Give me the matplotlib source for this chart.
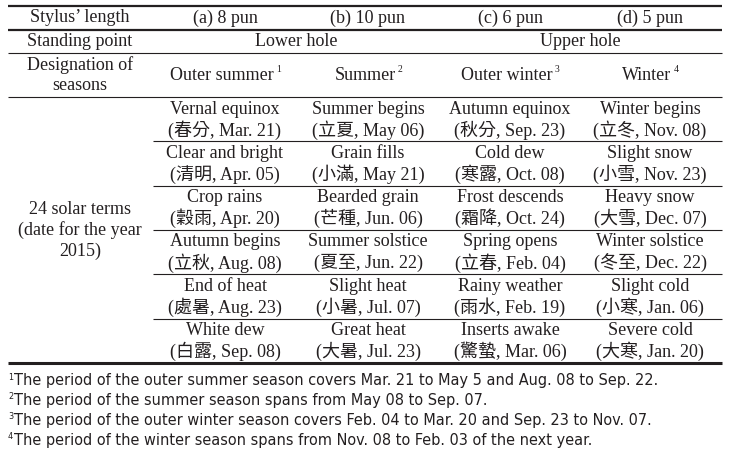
import matplotlib
matplotlib.use("Agg")
from matplotlib import pyplot as plt

# table content
stylus = ["(a) 8 pun", "(b) 10 pun", "(c) 6 pun", "(d) 5 pun"]
standing = ["Lower hole", "Upper hole"]
seasons = ["Outer summer", "Summer", "Outer winter", "Winter"]

terms_en = [
    ["Vernal equinox", "Clear and bright", "Crop rains", "Autumn begins", "End of heat", "White dew"],
    ["Summer begins", "Grain fills", "Bearded grain", "Summer solstice", "Slight heat", "Great heat"],
    ["Autumn equinox", "Cold dew", "Frost descends", "Spring opens", "Rainy weather", "Inserts awake"],
    ["Winter begins", "Slight snow", "Heavy snow", "Winter solstice", "Slight cold", "Severe cold"],
]
terms_zh = [
    ["春分", "清明", "穀雨", "立秋", "處暑", "白露"],
    ["立夏", "小滿", "芒種", "夏至", "小暑", "大暑"],
    ["秋分", "寒露", "霜降", "立春", "雨水", "驚蟄"],
    ["立冬", "小雪", "大雪", "冬至", "小寒", "大寒"],
]
terms_date = [
    ["Mar. 21", "Apr. 05", "Apr. 20", "Aug. 08", "Aug. 23", "Sep. 08"],
    ["May 06", "May 21", "Jun. 06", "Jun. 22", "Jul. 07", "Jul. 23"],
    ["Sep. 23", "Oct. 08", "Oct. 24", "Feb. 04", "Feb. 19", "Mar. 06"],
    ["Nov. 08", "Nov. 23", "Dec. 07", "Dec. 22", "Jan. 06", "Jan. 20"],
]
notes = [
    "The period of the outer summer season covers Mar. 21 to May 5 and Aug. 08 to Sep. 22.",
    "The period of the summer season spans from May 08 to Sep. 07.",
    "The period of the outer winter season covers Feb. 04 to Mar. 20 and Sep. 23 to Nov. 07.",
    "The period of the winter season spans from Nov. 08 to Feb. 03 of the next year.",
]

INK = "#231f20"
SERIF = ["Liberation Serif", "Noto Sans CJK TC"]
SANS = ["DejaVu Sans"]
FS = 13

fig = plt.figure(figsize=(7.30, 4.63), dpi=100)
ax = fig.add_axes([0, 0, 1, 1])
ax.set_xlim(0, 730)
ax.set_ylim(463, 0)
ax.axis("off")

x0, x1 = 8, 722
col_x = [80, 225, 368, 510, 650]
row_x0 = 153

def txt(x, y, s, **kw):
    kw.setdefault("fontsize", FS)
    return ax.text(x, y, s, ha="center", va="center", color=INK, family=SERIF, **kw)

# rules
ax.hlines(6, x0, x1, color=INK, lw=1.6)
ax.hlines(30, x0, x1, color=INK, lw=1.6)
ax.hlines(53, x0, x1, color=INK, lw=0.8)
ax.hlines(97, x0, x1, color=INK, lw=0.8)
ax.hlines(363, x0, x1, color=INK, lw=2.2)

# header
txt(col_x[0], 18, "Stylus\u2019 length")
for i, s in enumerate(stylus):
    txt(col_x[i + 1], 18, s)
txt(col_x[0], 42, "Standing point")
txt((col_x[1] + col_x[2]) / 2, 42, standing[0])
txt((col_x[3] + col_x[4]) / 2, 42, standing[1])
txt(col_x[0], 65, "Designation of")
txt(col_x[0], 86, "seasons")
for i, s in enumerate(seasons):
    t = txt(col_x[i + 1] - 3, 75, s)
    ax.annotate(str(i + 1), xy=(1, 0.8), xycoords=t, xytext=(1.5, 0),
                textcoords="offset points", ha="left", va="center",
                color=INK, family=SERIF, fontsize=7)

# body
txt(col_x[0], 209, "24 solar terms")
txt(col_x[0], 230, "(date for the year")
txt(col_x[0], 251, "2015)")
row_h = 44.3
for r in range(6):
    ytop = 97 + r * row_h
    if r > 0:
        ax.hlines(ytop, row_x0, x1, color=INK, lw=0.8)
    for c in range(4):
        txt(col_x[c + 1], ytop + 12, terms_en[c][r])
        txt(col_x[c + 1], ytop + 33, "(" + terms_zh[c][r] + ", " + terms_date[c][r] + ")")

# footnotes
for i, s in enumerate(notes):
    y = 381 + i * 19.8
    ax.text(8, y - 4, str(i + 1), ha="left", va="center", color=INK,
            family=SANS, fontsize=6.5, fontstretch="condensed")
    ax.text(14, y, s, ha="left", va="center", color=INK,
            family=SANS, fontsize=11.6, fontstretch="condensed")

fig.savefig("out.png", dpi=100)
